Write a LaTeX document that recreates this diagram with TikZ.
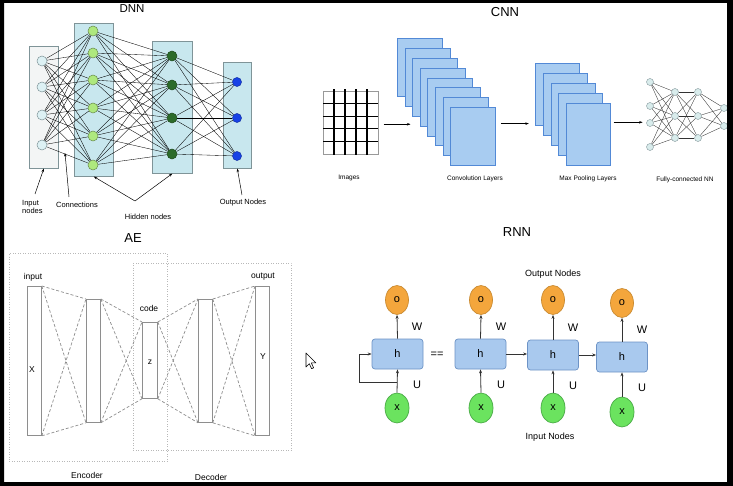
\documentclass[tikz,border=0pt]{standalone}
\usepackage{fontspec}
\setmainfont{Liberation Sans}
\usetikzlibrary{arrows.meta,calc,shapes.geometric}
\definecolor{inbox}{HTML}{F3F5F5}
\definecolor{hidbox}{HTML}{C8E7EE}
\definecolor{boxline}{HTML}{7F9498}
\definecolor{ncin}{HTML}{DDF1F4}
\definecolor{nch1}{HTML}{AEE87E}
\definecolor{nch2}{HTML}{2C6B2A}
\definecolor{ncout}{HTML}{1742E6}
\definecolor{convfill}{HTML}{A8CCF1}
\definecolor{convline}{HTML}{5289D6}
\definecolor{fcfill}{HTML}{D9ECEC}
\definecolor{aegray}{HTML}{8E8E8E}
\definecolor{aebox}{HTML}{B8B8B8}
\definecolor{hfill}{HTML}{A9C9EE}
\definecolor{hline}{HTML}{6D93C6}
\definecolor{ofill}{HTML}{F4A63C}
\definecolor{oline}{HTML}{C98A30}
\definecolor{xfill}{HTML}{6BE35F}
\definecolor{xline}{HTML}{47A944}
\tikzset{
  box/.style={draw=boxline, line width=0.6pt, inner sep=0pt, anchor=north west},
  neur/.style={circle, draw=#1, line width=0.5pt, minimum size=10pt, inner sep=0pt},
  conn/.style={black, line width=0.35pt},
  tiny/.style={font=\fontsize{6.5}{7.5}\selectfont, inner sep=0pt},
  lab/.style={font=\fontsize{7.5}{8.5}\selectfont, inner sep=0pt},
  ttl/.style={font=\fontsize{13}{15}\selectfont, inner sep=0pt},
  arr/.style={black, line width=0.5pt, -{Stealth[length=3.5pt,width=2.5pt]}},
  layerbox/.style={draw=convline, fill=convfill, line width=0.6pt, inner sep=0pt, anchor=north west, minimum width=45pt, minimum height=58pt},
  fcn/.style={circle, draw=boxline, fill=fcfill, line width=0.4pt, minimum size=7pt, inner sep=0pt},
  aerect/.style={draw=aegray, fill=white, line width=0.8pt, inner sep=0pt, anchor=north west},
  aedash/.style={aegray, line width=0.7pt, dash pattern=on 3pt off 2pt},
  aeframe/.style={draw=aebox, line width=0.5pt, dotted},
  aelab/.style={font=\fontsize{8.5}{10}\selectfont, inner sep=0pt},
  hcell/.style={draw=hline, fill=hfill, line width=0.7pt, rounded corners=3pt, minimum width=51pt, minimum height=30pt, inner sep=0pt, font=\fontsize{11}{12}\selectfont},
  ocell/.style={ellipse, draw=oline, fill=ofill, line width=0.7pt, minimum width=23pt, minimum height=29pt, inner sep=0pt, font=\fontsize{11}{12}\selectfont},
  xcell/.style={ellipse, draw=xline, fill=xfill, line width=0.7pt, minimum width=24pt, minimum height=30pt, inner sep=0pt, font=\fontsize{11}{12}\selectfont},
  rarr/.style={black!80, line width=0.8pt, -{Stealth[length=4pt,width=3pt]}},
  wlab/.style={font=\fontsize{11}{12}\selectfont, inner sep=0pt},
  rlab/.style={font=\fontsize{9}{10}\selectfont, inner sep=0pt}
}
\begin{document}
\begin{tikzpicture}[x=1pt,y=-1pt]
\useasboundingbox (0,0) rectangle (733,486);
\fill[white] (0,0) rectangle (733,486);

% ================= DNN =================
\node[ttl, font=\fontsize{11.5}{13}\selectfont] (tdnn) at (132,9) {DNN};
\node[box, fill=inbox, minimum width=29pt, minimum height=122pt] (bin) at (29,46) {};
\node[box, fill=hidbox, minimum width=39pt, minimum height=153pt] (bh1) at (74,23) {};
\node[box, fill=hidbox, minimum width=40pt, minimum height=132pt] (bh2) at (152,41) {};
\node[box, fill=hidbox, minimum width=28pt, minimum height=106pt] (bout) at (223,62) {};
\foreach \y [count=\k] in {61,87,115,145} \node[neur=boxline, fill=ncin] (i\k) at (42,\y) {};
\foreach \y [count=\k] in {31,53,80,108,136,165} \node[neur=nch1!60!black, fill=nch1] (a\k) at (93,\y) {};
\foreach \y [count=\k] in {56,85,118,154} \node[neur=nch2!70!black, fill=nch2] (b\k) at (172,\y) {};
\foreach \y [count=\k] in {82,118,156} \node[neur=ncout!70!black, fill=ncout, minimum size=9pt] (o\k) at (237,\y) {};
\foreach \p in {1,...,4} \foreach \q in {1,...,6} \draw[conn] (i\p) -- (a\q);
\foreach \p in {1,...,6} \foreach \q in {1,...,4} \draw[conn] (a\p) -- (b\q);
\foreach \p in {1,...,4} \foreach \q in {1,...,3} \draw[conn] (b\p) -- (o\q);
\node[lab, align=left, anchor=west] (linp) at (22,207) {Input\\nodes};
\node[lab] (lcon) at (77,205) {Connections};
\node[lab] (lhid) at (148,217) {Hidden nodes};
\node[lab] (lout) at (243,203) {Output Nodes};
\coordinate (cinp) at (35,194);
\draw[arr] (cinp) -- (bin.south);
\coordinate (ccon1) at (69,197);
\coordinate (ccon2) at (65,153);
\draw[arr] (ccon1) -- (ccon2);
\coordinate (chid) at (135,201);
\draw[arr] (chid) -- (bh1.south);
\draw[arr] (chid) -- (bh2.south);
\coordinate (cout) at (242,195);
\draw[arr] (cout) -- (bout.south);

% ================= CNN =================
\node[ttl] (tcnn) at (505,12) {CNN};
\node[draw=black!40, line width=0.5pt, minimum width=55pt, minimum height=63pt, inner sep=0pt, anchor=north west] (grid) at (323,91) {};
\foreach \x in {334,345,356,367} \draw[black, line width=1.1pt] (\x,89.5) -- (\x,155.5);
\foreach \y in {103.6,116.2,128.8,141.4} \draw[black, line width=1.1pt] (323,\y) -- (378,\y);
\foreach \k in {0,...,7} \node[layerbox] (conv\k) at ({397+7.6*\k},{38+9.9*\k}) {};
\foreach \k in {0,...,4} \node[layerbox, minimum width=44pt, minimum height=62pt] (pool\k) at ({535+7.75*\k},{63+10*\k}) {};
\draw[arr] ([xshift=5pt,yshift=-1.5pt]grid.east) -- ++(27,0);
\draw[arr] ([xshift=5pt,yshift=13pt]conv7.east) -- ++(28,0);
\draw[arr] ([xshift=3pt,yshift=12pt]pool4.east) -- ++(29,0);
% fully connected
\foreach \y [count=\k] in {82,106,123,147} \node[fcn] (f\k) at (650,\y) {};
\foreach \y [count=\k] in {92,116,138} \node[fcn] (g\k) at (675,\y) {};
\foreach \y [count=\k] in {92,116,138} \node[fcn] (k\k) at (698,\y) {};
\foreach \y [count=\k] in {108,126} \node[fcn] (m\k) at (724,\y) {};
\foreach \p in {1,...,4} \foreach \q in {1,...,3} \draw[conn, black!80] (f\p) -- (g\q);
\foreach \p in {1,...,3} \foreach \q in {1,...,3} \draw[conn, black!80] (g\p) -- (k\q);
\foreach \p in {1,...,3} \foreach \q in {1,...,2} \draw[conn, black!80] (k\p) -- (m\q);
\node[tiny] (limg) at (349,178) {Images};
\node[tiny] (lconv) at (475,179) {Convolution Layers};
\node[tiny] (lpool) at (588,179) {Max Pooling Layers};
\node[tiny] (lfc) at (685,180) {Fully-connected NN};

% ================= AE =================
\node[ttl] (tae) at (133,238) {AE};
\node[aeframe, minimum width=158pt, minimum height=208pt, inner sep=0pt, anchor=north west] (fenc) at (9,253) {};
\node[aeframe, minimum width=158pt, minimum height=187pt, inner sep=0pt, anchor=north west] (fdec) at (133,263) {};
\node[aerect, minimum width=14pt, minimum height=149pt] (ain) at (27,286) {};
\node[aerect, minimum width=14pt, minimum height=123pt] (aenc) at (86,299) {};
\node[aerect, minimum width=15pt, minimum height=76pt] (acode) at (142,322) {};
\node[aerect, minimum width=14pt, minimum height=123pt] (adec) at (198,299) {};
\node[aerect, minimum width=14pt, minimum height=149pt] (aout) at (255,286) {};
\foreach \a/\b in {ain/aenc, aenc/acode, acode/adec, adec/aout} {
  \draw[aedash] (\a.north east) -- (\b.north west);
  \draw[aedash] (\a.north east) -- (\b.south west);
  \draw[aedash] (\a.south east) -- (\b.north west);
  \draw[aedash] (\a.south east) -- (\b.south west);
}
\node[aelab] (linput) at (33,277) {input};
\node[aelab] (loutput) at (263,277) {output};
\node[aelab] (lcode) at (149,308) {code};
\node[aelab] (lX) at (32,370) {X};
\node[aelab] (lz) at (150,362) {z};
\node[aelab] (lY) at (263,357) {Y};
\node[aelab] (lenc) at (87,475) {Encoder};
\node[aelab] (ldec) at (211,477) {Decoder};
% mouse cursor
\draw[fill=white, line width=0.6pt, line join=round] (306,353) -- ++(0,14) -- ++(3.3,-3.3) -- ++(2.3,5) -- ++(2,-0.9) -- ++(-2.3,-4.9) -- ++(4.6,0) -- cycle;

% ================= RNN =================
\node[ttl] (trnn) at (517,232) {RNN};
\node[rlab] (lon) at (553,274) {Output Nodes};
\node[rlab] (lin) at (550,437) {Input Nodes};
\foreach \k/\hx/\hy/\ox/\oy/\xy in {0/397.5/354/397/300/408, 1/480.5/354/481/300/408, 2/553/355/553/300/408, 3/622/357/622/303/412} {
  \node[hcell] (h\k) at (\hx,\hy) {h};
  \node[ocell] (ro\k) at (\ox,\oy) {o};
  \node[xcell] (rx\k) at (\ox,\xy) {x};
  \draw[rarr] (h\k.north) -- (ro\k.south);
  \draw[rarr] (rx\k.north) -- (h\k.south);
  \node[wlab] (w\k) at ($(\ox,\hy)+(20,-27)$) {W};
  \node[wlab] (u\k) at ($(\ox,\hy)+(20,31)$) {U};
}
\node[wlab] (eq) at (437,355) {==};
\coordinate (loopc) at ([xshift=-12pt]h0.west);
\draw[rarr] ($(rx0.north)!0.45!(h0.south)$) -| (loopc) -- (h0.west);
\draw[rarr] (h1.east) -- (h1.east -| h2.west);
\draw[rarr] (h2.east) -- (h2.east -| h3.west);

% black frame
\fill[black, even odd rule] (0,0) rectangle (733,486) (4,3) rectangle (727,482);
\end{tikzpicture}
\end{document}
